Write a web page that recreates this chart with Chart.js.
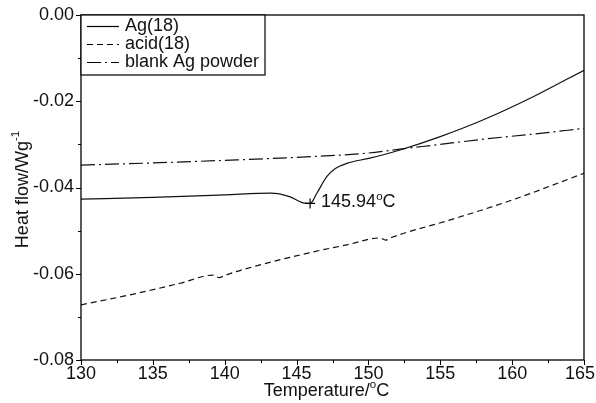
<!DOCTYPE html>
<html><head><meta charset="utf-8">
<script src="https://cdn.jsdelivr.net/npm/chart.js@4/dist/chart.umd.min.js"></script>
<style>html,body{margin:0;padding:0;background:#fff}#wrap{width:596px;height:403px}</style>
</head><body><div id="wrap"><canvas id="c" width="596" height="403"></canvas></div>
<script>
const seriesNames = ['Ag(18)', 'acid(18)', 'blank Ag powder'];
const agT = [130,135,140,143.2,144.5,145.4,145.94,146.4,147.1,147.7,148.5,150.1,152.2,155,158,161.5,165];
const agY = [-0.0427,-0.0423,-0.0417,-0.0413,-0.0421,-0.0435,-0.0437,-0.0414,-0.0375,-0.0356,-0.0344,-0.0332,-0.0313,-0.0282,-0.0243,-0.0189,-0.0128];
const acidT = [130,133.4,136.9,139.2,139.6,140,141.1,145.8,148.5,150.8,151.2,151.6,155.7,160,165];
const acidY = [-0.0672,-0.0649,-0.0622,-0.0603,-0.0609,-0.0604,-0.0592,-0.0552,-0.0533,-0.0517,-0.0522,-0.0516,-0.0475,-0.0429,-0.0367];
const blankT = [130,135,140,145,150,152.2,155,158,161.5,165];
const blankY = [-0.0348,-0.0343,-0.0337,-0.0330,-0.0320,-0.0311,-0.0300,-0.0288,-0.0276,-0.0263];
const xTicks = [130,135,140,145,150,155,160,165];
const yTicks = [0,-0.02,-0.04,-0.06,-0.08];
const yTickLabels = ['0.00','-0.02','-0.04','-0.06','-0.08'];
const peakT = 145.94, peakY = -0.0437, peakLabel = '145.94', peakUnit = 'C';

const FONT = '"Liberation Sans", Arial, sans-serif';
const FS = '18px ', SS = '11.5px ';
function pts(xs, ys){ return xs.map((x,i)=>({x:x,y:ys[i]})); }
const dashes = [[], [6,4], [14,4,2,4]];

const custom = {
  id:'custom',
  afterDraw(chart){
    const ctx = chart.ctx, a = chart.chartArea, xs = chart.scales.x, ys = chart.scales.y;
    ctx.save();
    ctx.strokeStyle = '#000'; ctx.fillStyle = '#111'; ctx.lineWidth = 1.3; ctx.setLineDash([]);
    ctx.strokeRect(a.left, a.top, a.right-a.left, a.bottom-a.top);
    ctx.lineWidth = 1;
    for (let v = xTicks[0]; v <= xTicks[xTicks.length-1]+1e-9; v += 2.5) {
      const px = Math.round(xs.getPixelForValue(v))+0.5;
      const major = Math.abs(v/5 - Math.round(v/5)) < 1e-6;
      ctx.beginPath(); ctx.moveTo(px, a.bottom); ctx.lineTo(px, a.bottom + (major?5:3)); ctx.stroke();
    }
    for (let v = 0; v >= -0.08-1e-9; v -= 0.01) {
      const py = Math.round(ys.getPixelForValue(v))+0.5;
      const major = Math.abs(v/0.02 - Math.round(v/0.02)) < 1e-6;
      ctx.beginPath(); ctx.moveTo(a.left, py); ctx.lineTo(a.left - (major?5:3), py); ctx.stroke();
    }
    ctx.font = FS + FONT;
    ctx.textAlign = 'center'; ctx.textBaseline = 'middle';
    xTicks.forEach(v => {
      const t = String(v), w = ctx.measureText(t).width;
      let cx = xs.getPixelForValue(v);
      if (cx + w/2 > chart.width - 1) cx = chart.width - 1 - w/2;
      ctx.fillText(t, cx, a.bottom + 14);
    });
    ctx.textAlign = 'right';
    yTicks.forEach((v,i) => ctx.fillText(yTickLabels[i], a.left - 7, ys.getPixelForValue(v)));
    const xt1 = 'Temperature/', xt2 = 'o', xt3 = 'C';
    ctx.textAlign = 'left';
    ctx.font = FS + FONT; const w1 = ctx.measureText(xt1).width, w3 = ctx.measureText(xt3).width;
    ctx.font = SS + FONT; const w2 = ctx.measureText(xt2).width;
    let sx = (a.left + a.right)/2 - 6 - (w1+w2+w3)/2; const ty = 391;
    ctx.font = FS + FONT; ctx.fillText(xt1, sx, ty);
    ctx.font = SS + FONT; ctx.fillText(xt2, sx + w1, ty - 6);
    ctx.font = FS + FONT; ctx.fillText(xt3, sx + w1 + w2, ty);
    ctx.save();
    ctx.translate(23, (a.top + a.bottom)/2 + 2);
    ctx.rotate(-Math.PI/2);
    const yt1 = 'Heat flow/Wg', yt2 = '-1';
    ctx.font = FS + FONT; const v1 = ctx.measureText(yt1).width;
    ctx.font = SS + FONT; const v2 = ctx.measureText(yt2).width;
    const s0 = -(v1+v2)/2;
    ctx.font = FS + FONT; ctx.fillText(yt1, s0, 0);
    ctx.font = SS + FONT; ctx.fillText(yt2, s0 + v1, -7);
    ctx.restore();
    const mx = xs.getPixelForValue(peakT), my = ys.getPixelForValue(peakY);
    ctx.lineWidth = 1.2;
    ctx.beginPath(); ctx.moveTo(mx-5, my); ctx.lineTo(mx+5, my); ctx.moveTo(mx, my-5); ctx.lineTo(mx, my+5); ctx.stroke();
    ctx.font = FS + FONT; ctx.textAlign = 'left';
    const pw = ctx.measureText(peakLabel).width;
    ctx.fillText(peakLabel, mx + 11, my - 1);
    ctx.font = SS + FONT; const ow = ctx.measureText('o').width;
    ctx.fillText('o', mx + 11 + pw, my - 7);
    ctx.font = FS + FONT; ctx.fillText(peakUnit, mx + 11 + pw + ow, my - 1);
    const lx = a.left, ly = a.top, lw = 184, lh = 60;
    ctx.fillStyle = '#fff'; ctx.fillRect(lx, ly, lw, lh);
    ctx.lineWidth = 1.2; ctx.strokeRect(lx, ly, lw, lh);
    ctx.fillStyle = '#111';
    chart.data.datasets.forEach((ds, i) => {
      const yy = ly + 11 + i*18;
      ctx.setLineDash(ds.borderDash || []);
      ctx.lineWidth = 1.2;
      ctx.beginPath(); ctx.moveTo(lx + 6, yy + 0.5); ctx.lineTo(lx + 38, yy + 0.5); ctx.stroke();
      ctx.setLineDash([]);
      ctx.font = FS + FONT; ctx.textAlign = 'left';
      ctx.fillText(ds.label, lx + 44, yy);
    });
    ctx.restore();
  }
};

new Chart(document.getElementById('c'), {
  type: 'line',
  data: { datasets: [
    { label: seriesNames[0], data: pts(agT, agY), borderDash: dashes[0] },
    { label: seriesNames[1], data: pts(acidT, acidY), borderDash: dashes[1] },
    { label: seriesNames[2], data: pts(blankT, blankY), borderDash: dashes[2] }
  ].map(d => Object.assign(d, { borderColor: '#111', borderWidth: 1.2, pointRadius: 0, fill: false, cubicInterpolationMode: 'monotone' })) },
  options: {
    responsive: false, animation: false, devicePixelRatio: 1,
    layout: { padding: { left: 81, right: 12, top: 15, bottom: 43 } },
    plugins: { legend: { display: false }, tooltip: { enabled: false } },
    scales: {
      x: { type: 'linear', min: 130, max: 165, display: false },
      y: { type: 'linear', min: -0.08, max: 0, display: false }
    }
  },
  plugins: [custom]
});
</script></body></html>
